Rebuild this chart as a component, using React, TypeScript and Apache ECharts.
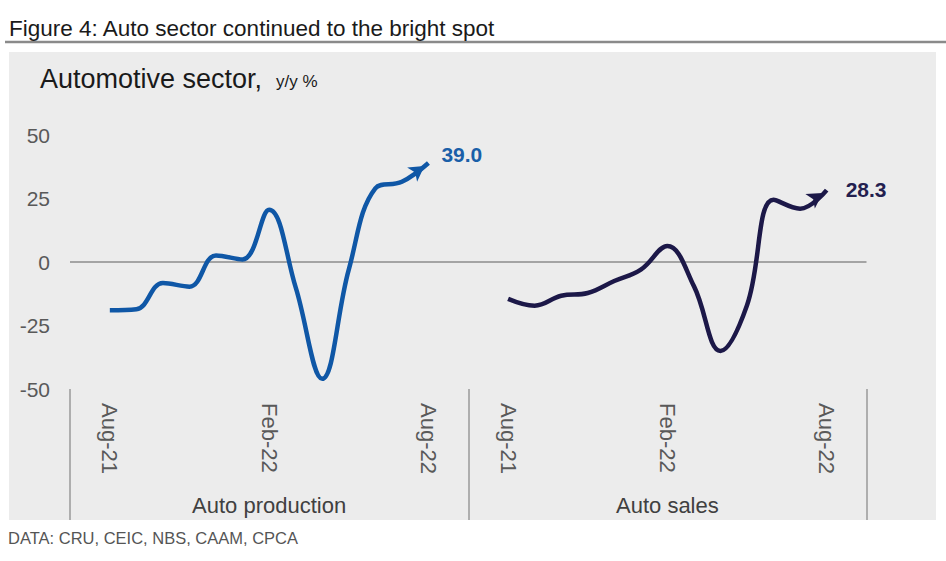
import React, { useEffect, useRef } from "react";
import * as echarts from "echarts";

const months = ["Aug-21", "Sep-21", "Oct-21", "Nov-21", "Dec-21", "Jan-22", "Feb-22", "Mar-22", "Apr-22", "May-22", "Jun-22", "Jul-22", "Aug-22"];
const groups = ["Auto production", "Auto sales"];
const production = [-19, -18.6, -8.3, -9.7, 2.6, 1.0, 20.6, -10.0, -46.0, -3.0, 29.0, 31.6, 39.0];
const sales = [-14.5, -17.2, -13.3, -12.2, -7.5, -3.0, 6.3, -9.5, -35.0, -17.0, 24.5, 21.0, 28.3];
const tickLabels = ["Aug-21", "Feb-22", "Aug-22"];
const yMin = -50;
const yMax = 50;
const yInterval = 25;

const titleText = "Figure 4: Auto sector continued to the bright spot";
const subtitleText = "Automotive sector,";
const unitText = "y/y %";
const sourceText = "DATA: CRU, CEIC, NBS, CAAM, CPCA";

const FONT = "'Liberation Sans', Arial, Helvetica, sans-serif";

export default function App() {
  const ref = useRef<HTMLDivElement>(null);

  useEffect(() => {
    if (!ref.current) return;
    const chart = echarts.init(ref.current, null, { renderer: "svg" });

    // Build a category axis: one padding slot either side of each group's months
    const categories: string[] = [];
    const slotOf: { group: number; month: number }[] = [];
    groups.forEach((g, gi) => {
      categories.push(`${g}|padL`);
      slotOf.push({ group: gi, month: -1 });
      months.forEach((m, mi) => {
        categories.push(`${g}|${m}`);
        slotOf.push({ group: gi, month: mi });
      });
      categories.push(`${g}|padR`);
      slotOf.push({ group: gi, month: -1 });
    });
    const perGroup = months.length + 2;

    const buildData = (gi: number, values: number[], rot: number, off: number[]) =>
      slotOf.map((s) => {
        if (s.group !== gi || s.month < 0) return null;
        const v = values[s.month];
        if (s.month === months.length - 1) {
          return { value: v, symbol: "arrow", symbolSize: [13, 15], symbolRotate: rot, symbolOffset: off };
        }
        return v;
      });

    const option: any = {
      animation: false,
      textStyle: { fontFamily: FONT },
      grid: {
        left: 70,
        right: 79.5,
        top: 135,
        bottom: 172,
        containLabel: false,
        outerBoundsMode: "none",
      },
      xAxis: [
        {
          type: "category",
          data: categories,
          boundaryGap: true,
          position: "bottom",
          axisLine: { show: false, onZero: false },
          axisTick: {
            show: true,
            interval: (index: number) => index % perGroup === 0,
            length: 131,
            lineStyle: { color: "#9a9a9a", width: 1.5 },
          },
          axisLabel: {
            interval: (index: number) => {
              const s = slotOf[index];
              return s.month >= 0 && tickLabels.indexOf(months[s.month]) >= 0;
            },
            formatter: (value: string) => value.split("|")[1],
            rotate: -90,
            margin: 14,
            fontSize: 22,
            color: "#595959",
            fontFamily: FONT,
          },
          splitLine: { show: false },
        },
        {
          type: "category",
          data: groups,
          position: "bottom",
          axisLine: { show: false, onZero: false },
          axisTick: { show: false },
          axisLabel: { margin: 105, fontSize: 22, color: "#404040", fontFamily: FONT },
          splitLine: { show: false },
        },
      ],
      yAxis: {
        type: "value",
        min: yMin,
        max: yMax,
        interval: yInterval,
        axisLine: { show: false },
        axisTick: { show: false },
        splitLine: { show: false },
        axisLabel: { margin: 20, fontSize: 21, color: "#595959", fontFamily: FONT },
      },
      series: [
        {
          name: groups[0],
          type: "line",
          xAxisIndex: 0,
          data: buildData(0, production, -55, [-4, 3]),
          smooth: 0.4,
          symbol: "none",
          connectNulls: false,
          lineStyle: { color: "#0f57a6", width: 4.5 },
          itemStyle: { color: "#0f57a6" },
          endLabel: {
            show: true,
            distance: 13,
            offset: [0, -8],
            formatter: (p: any) => Number(p.value).toFixed(1),
            color: "#1a5fa8",
            fontWeight: "bold",
            fontSize: 21,
            fontFamily: FONT,
          },
          markLine: {
            silent: true,
            symbol: "none",
            z: 1,
            label: { show: false },
            lineStyle: { color: "#8c8c8c", width: 1.5, type: "solid" },
            data: [{ yAxis: 0 }],
          },
          z: 3,
        },
        {
          name: groups[1],
          type: "line",
          xAxisIndex: 0,
          data: buildData(1, sales, -57, [-4, 3]),
          smooth: 0.4,
          symbol: "none",
          connectNulls: false,
          lineStyle: { color: "#1c1848", width: 4.5 },
          itemStyle: { color: "#1c1848" },
          endLabel: {
            show: true,
            distance: 19,
            offset: [0, -1],
            formatter: (p: any) => Number(p.value).toFixed(1),
            color: "#23204f",
            fontWeight: "bold",
            fontSize: 21,
            fontFamily: FONT,
          },
          z: 3,
        },
      ],
      graphic: [
        {
          type: "rect",
          silent: true,
          z: -100,
          shape: { x: 9, y: 52, width: 927, height: 468 },
          style: { fill: "#ececec" },
        },
        {
          type: "line",
          silent: true,
          shape: { x1: 5, y1: 42, x2: 946, y2: 42 },
          style: { stroke: "#8a8a8a", lineWidth: 2.5 },
        },
        {
          type: "text",
          x: 9,
          y: 28.5,
          style: { text: titleText, fontSize: 22.5, fontFamily: FONT, fill: "#1a1a1a", align: "left", verticalAlign: "middle" },
        },
        {
          type: "text",
          x: 40,
          y: 78.5,
          style: { text: subtitleText, fontSize: 27, fontFamily: FONT, fill: "#1a1a1a", align: "left", verticalAlign: "middle" },
        },
        {
          type: "text",
          x: 276,
          y: 81.8,
          style: { text: unitText, fontSize: 17, fontFamily: FONT, fill: "#1a1a1a", align: "left", verticalAlign: "middle" },
        },
        {
          type: "text",
          x: 8,
          y: 538.3,
          style: { text: sourceText, fontSize: 16.5, fontFamily: FONT, fill: "#555555", align: "left", verticalAlign: "middle" },
        },
      ],
    };

    chart.setOption(option);
    return () => chart.dispose();
  }, []);

  return <div ref={ref} style={{ position: "absolute", left: 0, top: 0, width: 946, height: 561 }} />;
}
